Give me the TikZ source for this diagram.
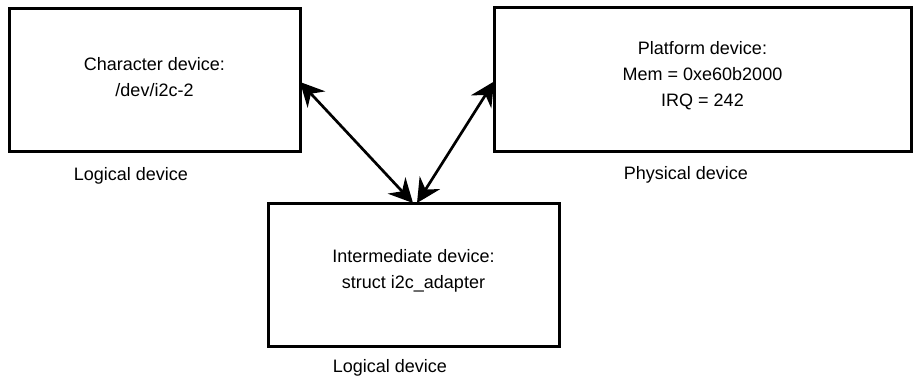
\documentclass[tikz,border=0pt]{standalone}
\usepackage{fontspec}
\setmainfont{Liberation Sans}
\usetikzlibrary{arrows.meta}
\begin{document}
\begin{tikzpicture}[x=1pt,y=-1pt,
  devbox/.style={draw, line width=3pt, inner sep=0pt, outer sep=0pt},
  devtext/.style={align=center, font=\fontsize{18}{26}\selectfont, inner sep=0pt},
  caption/.style={font=\fontsize{18}{26}\selectfont, inner sep=0pt},
  link/.style={line width=2.7pt,
    {Stealth[length=24pt,width=24pt,inset=8pt]}-{Stealth[length=24pt,width=24pt,inset=8pt]}}]
\useasboundingbox (0,0) rectangle (913,377);

% device boxes
\node[devbox, minimum width=291pt, minimum height=143pt] (cdev) at (154.5,80.5) {};
\node[devbox, minimum width=417pt, minimum height=144pt] (pdev) at (702.5,80) {};
\node[devbox, minimum width=291pt, minimum height=143pt] (adap) at (413.5,274.5) {};

% box contents
\node[devtext] (cdevtxt) at ([yshift=3.5pt]cdev.center) {Character device:\\/dev/i2c-2};
\node[devtext] (pdevtxt) at ([yshift=4pt]pdev.center) {Platform device:\\Mem = 0xe60b2000\\IRQ = 242};
\node[devtext] (adaptxt) at ([yshift=4pt]adap.center) {Intermediate device:\\struct i2c\_adapter};

% captions under the boxes
\node[caption] (cdevcap) at (131,176) {Logical device};
\node[caption] (pdevcap) at (686,175) {Physical device};
\node[caption] (adapcap) at (390,368) {Logical device};

% links
\draw[link] ([yshift=-1.5pt]cdev.east) -- ([xshift=-0.5pt]adap.north);
\draw[link] ([xshift=3.5pt]adap.north) -- ([yshift=-1.5pt]pdev.west);
\end{tikzpicture}
\end{document}
